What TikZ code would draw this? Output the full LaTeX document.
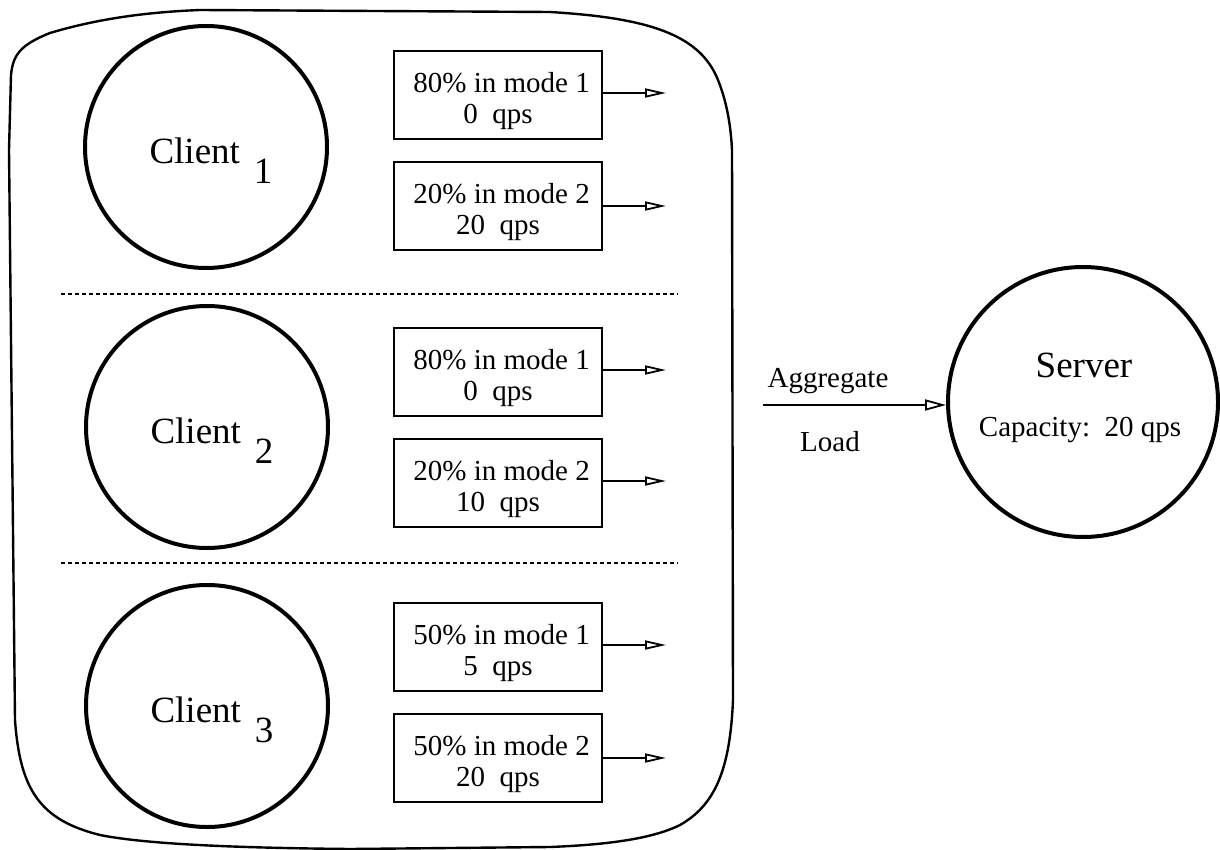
\documentclass[tikz,border=0pt]{standalone}
\usepackage{fontspec}
\setmainfont{Liberation Serif}
\usetikzlibrary{arrows.meta}
\usetikzlibrary{positioning}

\newcommand{\bigtxt}{\fontsize{37}{40}\selectfont}
\newcommand{\smalltxt}{\fontsize{29}{31}\selectfont}
\newcommand{\topgap}{\rule{0pt}{33pt}}

\begin{document}
\begin{tikzpicture}[x=1pt, y=-1pt,
    client/.style = {draw, circle, line width=4pt, minimum size=242pt, inner sep=0pt},
    server/.style = {draw, circle, line width=4pt, minimum size=270pt, inner sep=0pt},
    clientname/.style = {font=\bigtxt, xshift=5pt, yshift=-4pt},
    mode/.style = {draw, rectangle, line width=2.4pt, minimum width=208pt, minimum height=88pt, inner sep=0pt, align=center, font=\smalltxt},
    arr/.style = {line width=2pt, -{Triangle[open, length=21pt, width=9pt, line width=1.8pt]}},
    sep/.style = {line width=1.8pt, dash pattern=on 4pt off 3pt}]
    \useasboundingbox (0,0) rectangle (1220,850);

    % the group of clients
    \draw[line width=2.4pt] (9,150) -- (11,75) .. controls (13,55) and (20,45) .. (50,33)
        .. controls (100,18) and (150,12) .. (200,10) -- (550,12)
        .. controls (650,18) and (700,35) .. (718,80) .. controls (728,105) and (731,130) .. (732,150)
        -- (733,700) .. controls (730,770) and (715,805) .. (680,825) .. controls (650,840) and (600,845) .. (550,847)
        -- (350,849) .. controls (250,848) and (150,845) .. (100,835) .. controls (40,820) and (20,790) .. (15,720)
        -- cycle;

    \node [client] (c1) at (206,147) {};
    \node [client] (c2) at (207,427) {};
    \node [client] (c3) at (207,706) {};
    \node [clientname] (n1) at (c1) {Client\hspace{14pt}\smash{\raisebox{-20pt}{1}}};
    \node [clientname] (n2) at (c2) {Client\hspace{14pt}\smash{\raisebox{-20pt}{2}}};
    \node [clientname] (n3) at (c3) {Client\hspace{14pt}\smash{\raisebox{-20pt}{3}}};

    \node [mode] (m11) at (498,95) {\topgap\ 80\% in mode 1\\0~~qps};
    \node [mode] (m12) at (498,206) {\topgap\ 20\% in mode 2\\20~~qps};
    \node [mode] (m21) at (498,372) {\topgap\ 80\% in mode 1\\0~~qps};
    \node [mode] (m22) at (498,483) {\topgap\ 20\% in mode 2\\10~~qps};
    \node [mode] (m31) at (498,647) {\topgap\ 50\% in mode 1\\5~~qps};
    \node [mode] (m32) at (498,758) {\topgap\ 50\% in mode 2\\20~~qps};

    \coordinate (e11) at (666,93);
    \coordinate (e12) at (666,206);
    \coordinate (e21) at (666,370);
    \coordinate (e22) at (666,481);
    \coordinate (e31) at (666,645);
    \coordinate (e32) at (666,758);

    \draw[arr] (m11.east |- e11) to (e11);
    \draw[arr] (m12.east |- e12) to (e12);
    \draw[arr] (m21.east |- e21) to (e21);
    \draw[arr] (m22.east |- e22) to (e22);
    \draw[arr] (m31.east |- e31) to (e31);
    \draw[arr] (m32.east |- e32) to (e32);

    \coordinate (s1a) at (61,294);
    \coordinate (s1b) at (678,294);
    \coordinate (s2a) at (61,563);
    \coordinate (s2b) at (678,563);
    \draw[sep] (s1a) to (s1b);
    \draw[sep] (s2a) to (s2b);

    % server side
    \node [server] (srv) at (1083,402) {};
    \node [font=\bigtxt] (srvname) at (1084,365) {Server};
    \node [font=\smalltxt] (srvcap) at (1080,430) {Capacity:~~20 qps};

    \coordinate (agg) at (763,405);
    \draw[line width=2pt, -{Triangle[open, length=21pt, width=11pt, line width=1.8pt]}] (agg) to (srv.west |- agg);
    \node [font=\smalltxt] (aggtop) at (828,381) {Aggregate};
    \node [font=\smalltxt] (aggbot) at (830,442) {Load};

\end{tikzpicture}
\end{document}
